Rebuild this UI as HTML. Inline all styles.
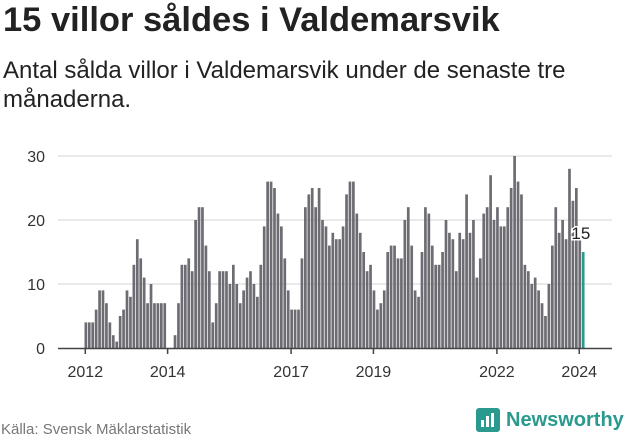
<!DOCTYPE html>
<html><head><meta charset="utf-8"><style>
body{margin:0;width:631px;height:439px;background:#fff;font-family:"Liberation Sans",sans-serif;overflow:hidden;position:relative}
.t{position:absolute;left:3px;top:1px;font-size:34.5px;font-weight:bold;color:#222;white-space:nowrap}
.s{position:absolute;left:3px;top:56px;font-size:24px;line-height:29px;color:#222;width:600px}
.f{position:absolute;left:1px;top:421px;font-size:15px;color:#777}
.logo{position:absolute;left:476px;top:408px;display:flex;align-items:center}
.logo span{font-size:20px;font-weight:bold;color:#2b9a8e;margin-left:6px}
</style></head><body>
<div class="t">15 villor såldes i Valdemarsvik</div>
<div class="s">Antal sålda villor i Valdemarsvik under de senaste tre månaderna.</div>
<svg id="c" width="631" height="439" style="position:absolute;left:0;top:0"></svg>
<div class="f">Källa: Svensk Mäklarstatistik</div>
<div class="logo">
<svg width="24" height="24"><rect x="0" y="0" width="24" height="24" rx="3" fill="#2b9a8e"/><rect x="5" y="12" width="3" height="7" fill="#fff"/><rect x="10" y="8" width="3" height="11" fill="#fff"/><rect x="15" y="5" width="3" height="14" fill="#fff"/></svg>
<span>Newsworthy</span></div>
<script>
const startYear = 2012;
const values = [4,4,4,6,9,9,7,4,2,1,5,6,
9,8,13,17,14,11,7,10,7,7,7,7,
0,0,2,7,13,13,14,12,20,22,22,16,
12,4,7,12,12,12,10,13,10,7,9,11,
12,10,8,13,19,26,26,25,21,19,14,9,
6,6,6,14,22,24,25,22,25,20,19,16,18,
17,17,19,24,26,26,21,18,15,12,13,9,
6,7,9,15,16,16,14,14,20,22,16,9,
8,15,22,21,16,13,13,15,20,18,17,12,
18,17,24,18,20,11,14,21,22,27,20,22,
19,19,22,25,30,26,24,13,12,10,11,9,
7,5,10,16,22,18,20,17,28,23,25,17,
15];
const yTicks = [0,10,20,30];
const xTickYears = [2012,2014,2017,2019,2022,2024];
const NS="http://www.w3.org/2000/svg";
const svg=document.getElementById('c');
const W=3.43, X0=84.5;
const xs=i=>X0+i*W;
const ys=v=>348-v*6.4;
function mk(tag,attrs){const e=document.createElementNS(NS,tag);for(const k in attrs)e.setAttribute(k,attrs[k]);svg.appendChild(e);return e;}
yTicks.forEach(t=>{
  if(t>0){const g=mk('line',{x1:58,x2:612,y1:ys(t),y2:ys(t),stroke:'#e2e2e2','stroke-width':1.5});
  
  }
  const l=mk('text',{x:45,y:ys(t)+6,'text-anchor':'end','font-size':16,fill:'#333'});
  l.textContent=t;
  
  
});
values.forEach((v,i)=>{
  const last=i===values.length-1;
  const r=mk('rect',{x:xs(i),y:ys(v),width:2.7,height:v*6.4,fill:last?'#2b9a8e':'#6d6c72'});
  
  
});
const ax=mk('line',{x1:58,x2:612,y1:348.5,y2:348.5,stroke:'#444','stroke-width':1.5});


xTickYears.forEach(y=>{
  const x=xs((y-startYear)*12)+0.8;
  const tk=mk('line',{x1:x,x2:x,y1:348,y2:354,stroke:'#444','stroke-width':1.5});
  
  
  const l=mk('text',{x:x,y:377,'text-anchor':'middle','font-size':16,fill:'#333'});
  l.textContent=y;
  
  
});
const li=values.length-1;
const lab=mk('text',{x:xs(li)-1,y:ys(values[li])-13,'text-anchor':'middle','font-size':17,fill:'#222',stroke:'#fff','stroke-width':3,'paint-order':'stroke'});
lab.textContent=values[li];


</script>
</body></html>
